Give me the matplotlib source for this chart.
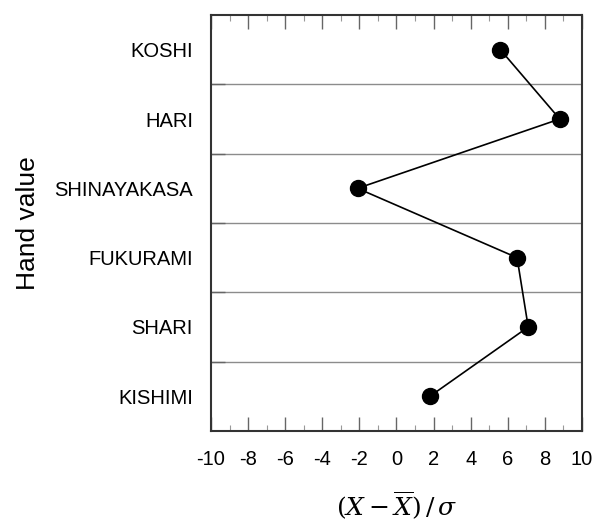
import numpy as np
import matplotlib.pyplot as plt
from matplotlib.ticker import MultipleLocator, FixedLocator, NullFormatter

categories = ['KOSHI', 'HARI', 'SHINAYAKASA', 'FUKURAMI', 'SHARI', 'KISHIMI']
values = [5.6, 8.8, -2.1, 6.5, 7.1, 1.8]
xticks = [-10, -8, -6, -4, -2, 0, 2, 4, 6, 8, 10]

plt.rcParams['font.family'] = ['Liberation Sans', 'DejaVu Sans']
plt.rcParams['mathtext.fontset'] = 'dejavuserif'

fig = plt.figure(figsize=(5.94, 5.27), dpi=100)
ax = fig.add_axes([0.3552, 0.1822, 0.6246, 0.7893])

pos = np.arange(len(categories))
ax.plot(values, pos, color='black', lw=1.2, marker='o', markersize=11.5, zorder=3)

# band separators
for b in pos[:-1] + 0.5:
    ax.axhline(b, color='#8c8c8c', lw=1.0, zorder=1)

ax.set_xlim(-10, 10)
ax.set_ylim(len(categories) - 0.5, -0.5)
ax.set_xticks(xticks)
ax.set_xticklabels([str(t) for t in xticks], fontsize=14.5)
ax.xaxis.set_minor_locator(MultipleLocator(1))
ax.tick_params(axis='x', which='major', direction='in', length=10, width=1.0,
               color='#666666', top=True, pad=14)
ax.tick_params(axis='x', which='minor', direction='in', length=4.5, width=0.8,
               color='#999999', top=True)

ax.set_yticks(pos)
ax.set_yticklabels(categories, fontsize=14.5)
ax.tick_params(axis='y', which='major', length=0, pad=13)
ax.yaxis.set_minor_locator(FixedLocator(pos[:-1] + 0.5))
ax.yaxis.set_minor_formatter(NullFormatter())
ax.tick_params(axis='y', which='minor', direction='in', length=10, width=1.0,
               color='#666666')

for s in ax.spines.values():
    s.set_linewidth(1.5)
    s.set_color('#333333')

ax.set_ylabel('Hand value', fontsize=19, labelpad=10)
ax.set_xlabel(r'$\left(X-\overline{X}\right)\,/\,\sigma$', fontsize=18, labelpad=14)

fig.savefig('out.png', dpi=100)
